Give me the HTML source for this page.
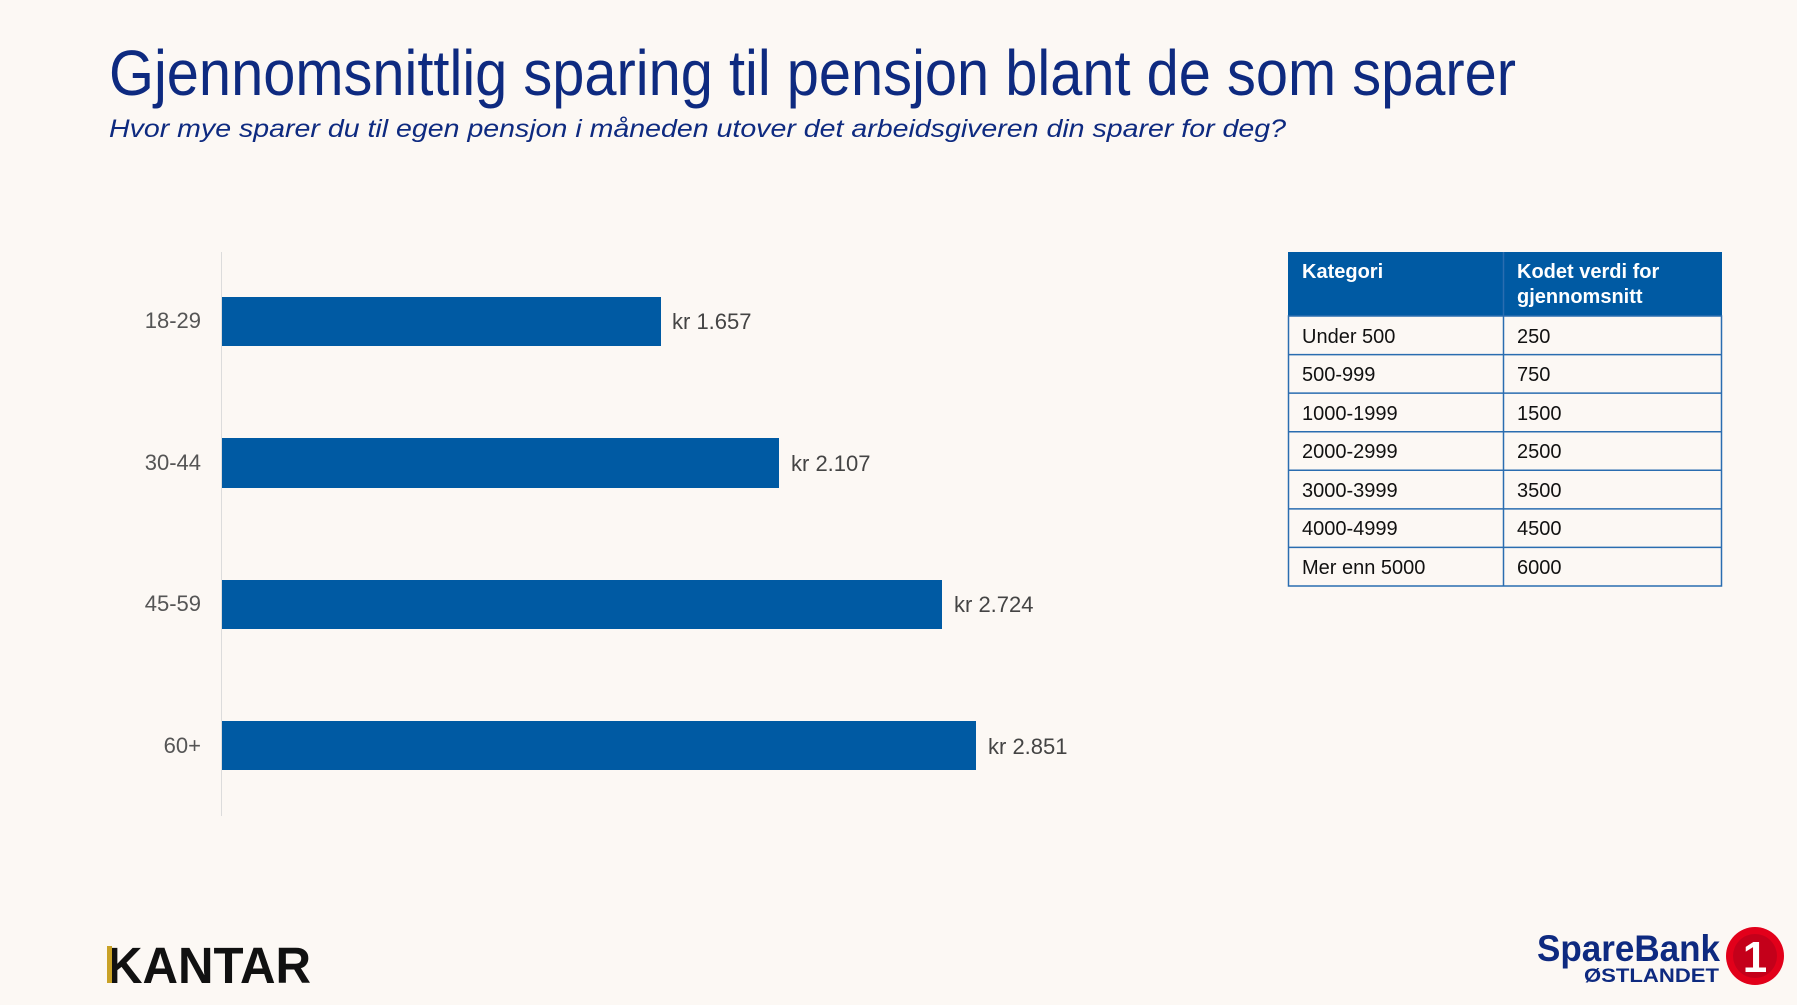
<!DOCTYPE html>
<html><head><meta charset="utf-8"><style>
html,body{margin:0;padding:0;background:#fcf8f4;}
svg{display:block;}
text{font-family:"Liberation Sans",sans-serif;}
</style></head><body>
<svg width="1797" height="1005" viewBox="0 0 1797 1005" xmlns="http://www.w3.org/2000/svg">
<rect width="1797" height="1005" fill="#fcf8f4"/>
<text x="109" y="95" font-size="64" fill="#0e2a80" textLength="1407" lengthAdjust="spacingAndGlyphs">Gjennomsnittlig sparing til pensjon blant de som sparer</text>
<text x="109" y="137" font-size="25" font-style="italic" fill="#0e2a80" textLength="1177" lengthAdjust="spacingAndGlyphs">Hvor mye sparer du til egen pensjon i måneden utover det arbeidsgiveren din sparer for deg?</text>

<line x1="221.5" y1="252" x2="221.5" y2="816" stroke="#dcdcdc" stroke-width="1"/>
<g fill="#005aa3">
<rect x="222" y="297" width="439" height="49"/>
<rect x="222" y="438" width="557" height="50"/>
<rect x="222" y="580" width="720" height="49"/>
<rect x="222" y="721" width="754" height="49"/>
</g>
<g font-size="22" fill="#555" text-anchor="end">
<text x="201" y="328">18-29</text>
<text x="201" y="470">30-44</text>
<text x="201" y="611">45-59</text>
<text x="201" y="753">60+</text>
</g>
<g font-size="22" fill="#444">
<text x="672" y="329">kr 1.657</text>
<text x="791" y="471">kr 2.107</text>
<text x="954" y="612">kr 2.724</text>
<text x="988" y="754">kr 2.851</text>
</g>

<rect x="1288" y="252" width="434" height="64" fill="#005aa3"/>
<g font-size="20" font-weight="bold" fill="#fff">
<text x="1302" y="278">Kategori</text>
<text x="1517" y="278">Kodet verdi for</text>
<text x="1517" y="303">gjennomsnitt</text>
</g>
<g stroke="#2a6db0" stroke-width="1.5" fill="none">
<rect x="1288.5" y="316" width="433" height="270"/>
<line x1="1503.5" y1="252" x2="1503.5" y2="586"/>
<line x1="1288" y1="354.6" x2="1722" y2="354.6"/>
<line x1="1288" y1="393.1" x2="1722" y2="393.1"/>
<line x1="1288" y1="431.7" x2="1722" y2="431.7"/>
<line x1="1288" y1="470.3" x2="1722" y2="470.3"/>
<line x1="1288" y1="508.9" x2="1722" y2="508.9"/>
<line x1="1288" y1="547.4" x2="1722" y2="547.4"/>
</g>
<g font-size="20" fill="#111">
<text x="1302" y="343">Under 500</text><text x="1517" y="343">250</text>
<text x="1302" y="381">500-999</text><text x="1517" y="381">750</text>
<text x="1302" y="420">1000-1999</text><text x="1517" y="420">1500</text>
<text x="1302" y="458">2000-2999</text><text x="1517" y="458">2500</text>
<text x="1302" y="497">3000-3999</text><text x="1517" y="497">3500</text>
<text x="1302" y="535">4000-4999</text><text x="1517" y="535">4500</text>
<text x="1302" y="574">Mer enn 5000</text><text x="1517" y="574">6000</text>
</g>

<text x="107" y="983" font-size="51" font-weight="bold" fill="#111" textLength="204" lengthAdjust="spacingAndGlyphs">KANTAR</text>
<rect x="107" y="946" width="5" height="37" fill="#c9a227"/>

<text x="1537" y="961" font-size="37" font-weight="bold" fill="#0e2a80" textLength="183" lengthAdjust="spacingAndGlyphs">SpareBank</text>
<text x="1584" y="982" font-size="19" font-weight="bold" fill="#0e2a80" textLength="135" lengthAdjust="spacingAndGlyphs">ØSTLANDET</text>
<circle cx="1755" cy="956" r="29" fill="#e2001a"/>
<circle cx="1755" cy="956" r="22" fill="#c4001a"/>
<text x="1755" y="972" font-size="44" font-weight="bold" fill="#fff" text-anchor="middle">1</text>
</svg>
</body></html>
